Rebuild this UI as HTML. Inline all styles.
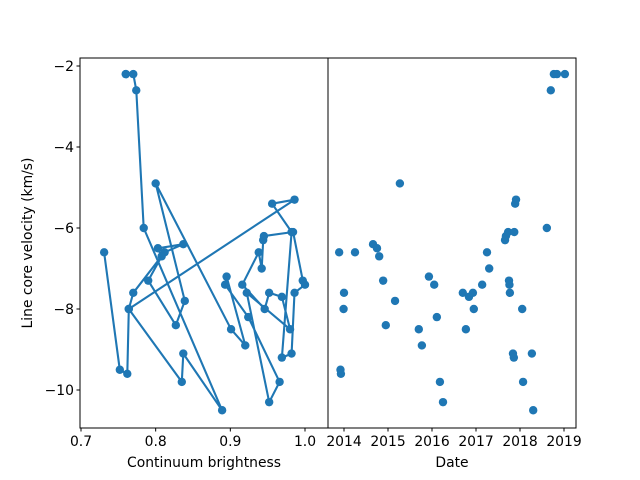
<!DOCTYPE html>
<html><head><meta charset="utf-8"><style>
body{margin:0;background:#fff}
svg{display:block;font-family:"DejaVu Sans","Liberation Sans",sans-serif}
</style></head><body>
<svg id="chart" width="640" height="480" viewBox="0 0 640 480"></svg>
<script>
const dates=[2013.89,2013.92,2013.93,2013.99,2014.0,2014.25,2014.66,2014.75,2014.8,2014.89,2014.95,2015.16,2015.27,2015.7,2015.77,2015.93,2016.05,2016.11,2016.18,2016.25,2016.7,2016.77,2016.84,2016.93,2016.95,2017.14,2017.25,2017.3,2017.66,2017.68,2017.73,2017.75,2017.76,2017.77,2017.84,2017.86,2017.87,2017.89,2017.91,2018.05,2018.07,2018.27,2018.3,2018.61,2018.7,2018.77,2018.84,2019.02];
const velocity=[-6.6,-9.5,-9.6,-8.0,-7.6,-6.6,-6.4,-6.5,-6.7,-7.3,-8.4,-7.8,-4.9,-8.5,-8.9,-7.2,-7.4,-8.2,-9.8,-10.3,-7.6,-8.5,-7.7,-7.6,-8.0,-7.4,-6.6,-7.0,-6.3,-6.2,-6.1,-7.3,-7.4,-7.6,-9.1,-9.2,-6.1,-5.4,-5.3,-8.0,-9.8,-9.1,-10.5,-6.0,-2.6,-2.2,-2.2,-2.2];
const brightness=[0.731,0.752,0.762,0.764,0.770,0.812,0.837,0.803,0.808,0.790,0.827,0.839,0.800,0.901,0.920,0.895,0.893,0.924,0.966,0.952,0.922,0.980,0.969,0.952,0.946,0.916,0.938,0.942,0.944,0.945,0.984,0.997,1.000,0.986,0.982,0.969,0.982,0.956,0.986,0.764,0.835,0.837,0.889,0.784,0.774,0.770,0.760,0.760];
const yTicks=[-2,-4,-6,-8,-10];
const yTickLabels=["\u22122","\u22124","\u22126","\u22128","\u221210"];
const bTicks=[0.7,0.8,0.9,1.0];
const bTickLabels=["0.7","0.8","0.9","1.0"];
const dTicks=[2014,2015,2016,2017,2018,2019];
const dTickLabels=["2014","2015","2016","2017","2018","2019"];

const NS="http://www.w3.org/2000/svg";
const svg=document.getElementById('chart');
const T=58,B=428,L1=80,R1=328,L2=328,R2=576;
const yS=v=>66+(v-(-2))*(390-66)/(-8);
const bS=b=>81+(b-0.7)*(305-81)/0.3;
const dS=d=>344+(d-2014)*(564-344)/5;
const C='#1f77b4';
function mk(tag,a,parent){const e=document.createElementNS(NS,tag);for(const k in a)e.setAttribute(k,a[k]);(parent||svg).appendChild(e);return e;}

const defs=mk('defs',{});
const cp=mk('clipPath',{id:'c1'},defs);mk('rect',{x:L1,y:T,width:R1-L1,height:B-T},cp);
const cp2=mk('clipPath',{id:'c2'},defs);mk('rect',{x:L2,y:T,width:R2-L2,height:B-T},cp2);
const lineG=mk('g',{'clip-path':'url(#c1)'});


const pts=brightness.map((b,i)=>bS(b).toFixed(1)+','+yS(velocity[i]).toFixed(1)).join(' ');
const pl=mk('polyline',{points:pts,fill:'none',stroke:C,'stroke-width':2.1,'stroke-linejoin':'round'},lineG);


brightness.forEach((b,i)=>{
  const c=mk('circle',{cx:bS(b),cy:yS(velocity[i]),r:4.2,fill:C},lineG);
  
  
});
const scG=mk('g',{'clip-path':'url(#c2)'});


dates.forEach((d,i)=>{
  const c=mk('circle',{cx:dS(d),cy:yS(velocity[i]),r:4.2,fill:C},scG);
  
  
});

const f1=mk('rect',{x:L1,y:T,width:R1-L1,height:B-T,fill:'none',stroke:'#000','stroke-width':1});


const f2=mk('rect',{x:L2,y:T,width:R2-L2,height:B-T,fill:'none',stroke:'#000','stroke-width':1});



function txt(x,y,s,anchor,name,extra){const t=mk('text',Object.assign({x:x,y:y,'font-size':13.9,'text-anchor':anchor,fill:'#000'},extra||{}));t.textContent=s;
  
  return t;}
yTicks.forEach((v,i)=>{const y=yS(v);mk('line',{x1:L1-3.5,x2:L1,y1:y,y2:y,stroke:'#000'});txt(L1-6,y+5,yTickLabels[i],'end','y-tick-label');});
bTicks.forEach((v,i)=>{const x=bS(v);mk('line',{x1:x,x2:x,y1:B,y2:B+3.5,stroke:'#000'});txt(x,B+18,bTickLabels[i],'middle','x-tick-label-brightness');});
dTicks.forEach((v,i)=>{const x=dS(v);mk('line',{x1:x,x2:x,y1:B,y2:B+3.5,stroke:'#000'});txt(x,B+18,dTickLabels[i],'middle','x-tick-label-date');});
txt(204,467,'Continuum brightness','middle','x-axis-title-brightness');
txt(452,467,'Date','middle','x-axis-title-date');
txt(0,0,'Line core velocity (km/s)','middle','y-axis-title',{transform:'translate(32,243) rotate(-90)'});
</script>
</body></html>
